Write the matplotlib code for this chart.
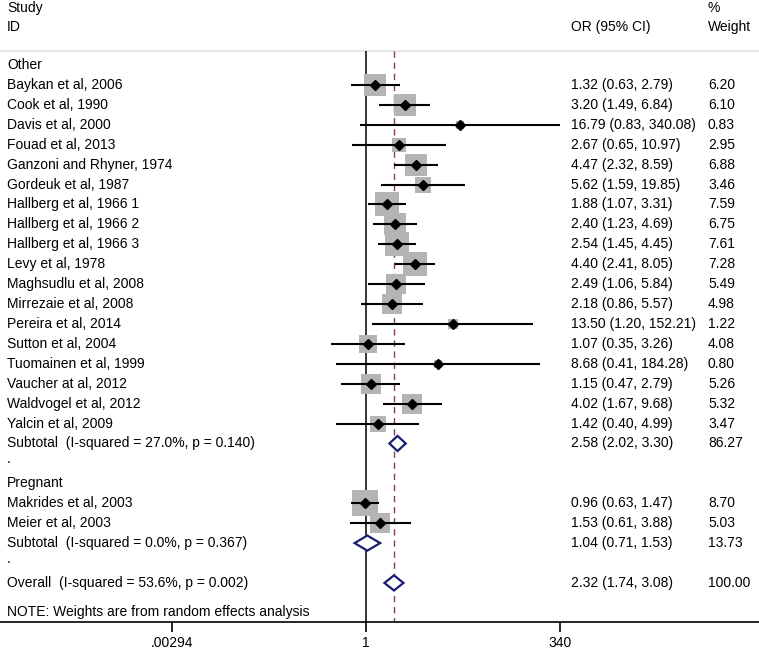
import numpy as np
import matplotlib
matplotlib.use("Agg")
import matplotlib.pyplot as plt
from matplotlib.transforms import blended_transform_factory

plt.rcParams['font.family'] = ['Liberation Sans', 'DejaVu Sans']
plt.rcParams['font.size'] = 10

# ---- data ----
other_studies = ["Baykan et al, 2006", "Cook et al, 1990", "Davis et al, 2000", "Fouad et al, 2013",
                 "Ganzoni and Rhyner, 1974", "Gordeuk et al, 1987", "Hallberg et al, 1966 1",
                 "Hallberg et al, 1966 2", "Hallberg et al, 1966 3", "Levy et al, 1978",
                 "Maghsudlu et al, 2008", "Mirrezaie et al, 2008", "Pereira et al, 2014",
                 "Sutton et al, 2004", "Tuomainen et al, 1999", "Vaucher at al, 2012",
                 "Waldvogel et al, 2012", "Yalcin et al, 2009"]
other_or = [1.32, 3.20, 16.79, 2.67, 4.47, 5.62, 1.88, 2.40, 2.54, 4.40, 2.49, 2.18, 13.50, 1.07, 8.68, 1.15, 4.02, 1.42]
other_lo = [0.63, 1.49, 0.83, 0.65, 2.32, 1.59, 1.07, 1.23, 1.45, 2.41, 1.06, 0.86, 1.20, 0.35, 0.41, 0.47, 1.67, 0.40]
other_hi = [2.79, 6.84, 340.08, 10.97, 8.59, 19.85, 3.31, 4.69, 4.45, 8.05, 5.84, 5.57, 152.21, 3.26, 184.28, 2.79, 9.68, 4.99]
other_w = [6.20, 6.10, 0.83, 2.95, 6.88, 3.46, 7.59, 6.75, 7.61, 7.28, 5.49, 4.98, 1.22, 4.08, 0.80, 5.26, 5.32, 3.47]

preg_studies = ["Makrides et al, 2003", "Meier et al, 2003"]
preg_or = [0.96, 1.53]
preg_lo = [0.63, 0.61]
preg_hi = [1.47, 3.88]
preg_w = [8.70, 5.03]

pooled_labels = ["Subtotal  (I-squared = 27.0%, p = 0.140)",
                 "Subtotal  (I-squared = 0.0%, p = 0.367)",
                 "Overall  (I-squared = 53.6%, p = 0.002)"]
pooled_or = [2.58, 1.04, 2.32]
pooled_lo = [2.02, 0.71, 1.74]
pooled_hi = [3.30, 1.53, 3.08]
pooled_w = [86.27, 13.73, 100.00]

tick_vals = [0.00294, 1, 340]
tick_labels = [".00294", "1", "340"]

# ---- layout ----
W, H = 759, 655
fig = plt.figure(figsize=(W / 100, H / 100), dpi=100)
axis_px = 622
ax = fig.add_axes([0, (H - axis_px) / H, 1, axis_px / H])

row0_px, row_h = 65, 19.92
def px2row(p):
    return (p - row0_px) / row_h

ax.set_xscale('log')
px_per_dec = 76.63
x1_px = 366
ax.set_xlim(10 ** (-x1_px / px_per_dec), 10 ** ((W - x1_px) / px_per_dec))
ax.set_ylim(px2row(axis_px), px2row(0))

trans = blended_transform_factory(ax.transAxes, ax.transData)
x_lab, x_or, x_w = 7 / W, 571 / W, 708 / W

box_col = '#b4b4b4'
dia_col = '#1c1c72'

def fmt_or(o, l, h):
    return f"{o:.2f} ({l:.2f}, {h:.2f})"

def draw_study(y, name, o, l, h, w):
    side_pt = 6.27 * np.sqrt(w)
    ax.plot([o], [y], marker='s', ms=side_pt, mfc=box_col, mec=box_col, mew=0, ls='none', zorder=2)
    ax.plot([l, h], [y, y], color='black', lw=1.5, solid_capstyle='butt', zorder=3)
    ax.plot([o], [y], marker='D', ms=5, color='black', ls='none', zorder=4)
    ax.text(x_lab, y, name, transform=trans, va='center', ha='left')
    ax.text(x_or, y, fmt_or(o, l, h), transform=trans, va='center', ha='left')
    ax.text(x_w, y, f"{w:.2f}", transform=trans, va='center', ha='left')

def draw_pooled(y, name, o, l, h, w):
    hh = 0.38
    xs = [l, o, h, o, l]
    ys = [y, y - hh, y, y + hh, y]
    ax.fill(xs, ys, facecolor='white', edgecolor=dia_col, lw=1.6, zorder=4, joinstyle='miter')
    ax.text(x_lab, y, name, transform=trans, va='center', ha='left')
    ax.text(x_or, y, fmt_or(o, l, h), transform=trans, va='center', ha='left')
    ax.text(x_w, y, f"{w:.2f}", transform=trans, va='center', ha='left')

# header
ax.text(x_lab, px2row(8), "Study", transform=trans, va='center', ha='left')
ax.text(x_lab, px2row(27), "ID", transform=trans, va='center', ha='left')
ax.text(x_or, px2row(27), "OR (95% CI)", transform=trans, va='center', ha='left')
ax.text(x_w, px2row(8), "%", transform=trans, va='center', ha='left')
ax.text(x_w, px2row(27), "Weight", transform=trans, va='center', ha='left')

sep_row = px2row(51)
ax.axhline(sep_row, color='#e4e4e4', lw=1.2, zorder=1)

bottom = px2row(axis_px)
ax.vlines(1, sep_row, bottom, color='black', lw=1.1, zorder=1)
ax.vlines(pooled_or[2], sep_row, bottom, color='#8c3a50', lw=1.0, linestyles=(0, (4.5, 3.5)), zorder=1)

row = 0
ax.text(x_lab, row, "Other", transform=trans, va='center', ha='left')
row += 1
for i in range(len(other_studies)):
    draw_study(row, other_studies[i], other_or[i], other_lo[i], other_hi[i], other_w[i])
    row += 1
draw_pooled(row, pooled_labels[0], pooled_or[0], pooled_lo[0], pooled_hi[0], pooled_w[0])
row += 1
ax.text(x_lab, row - 0.2, ".", transform=trans, va='center', ha='left')
row += 1
ax.text(x_lab, row, "Pregnant", transform=trans, va='center', ha='left')
row += 1
for i in range(len(preg_studies)):
    draw_study(row, preg_studies[i], preg_or[i], preg_lo[i], preg_hi[i], preg_w[i])
    row += 1
draw_pooled(row, pooled_labels[1], pooled_or[1], pooled_lo[1], pooled_hi[1], pooled_w[1])
row += 1
ax.text(x_lab, row - 0.2, ".", transform=trans, va='center', ha='left')
row += 1
draw_pooled(row, pooled_labels[2], pooled_or[2], pooled_lo[2], pooled_hi[2], pooled_w[2])
ax.text(x_lab, px2row(612), "NOTE: Weights are from random effects analysis", transform=trans, va='center', ha='left')

# axes styling
for s in ['top', 'left', 'right']:
    ax.spines[s].set_visible(False)
ax.spines['bottom'].set_linewidth(1.2)
ax.set_yticks([])
ax.set_xticks(tick_vals)
ax.set_xticklabels(tick_labels)
ax.xaxis.set_minor_locator(matplotlib.ticker.NullLocator())
ax.tick_params(axis='x', length=7, width=1.2, pad=3, labelsize=10)
ax.set_facecolor('white')

fig.savefig("out.png", dpi=100, facecolor='white')
